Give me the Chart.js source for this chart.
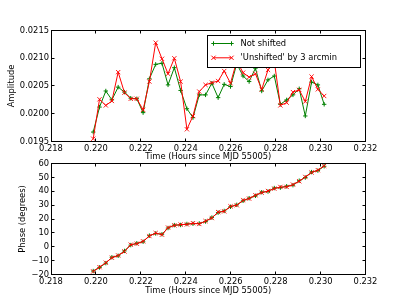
<!DOCTYPE html>
<html>
<head>
<meta charset="utf-8">
<script src="https://cdn.jsdelivr.net/npm/chart.js@4/dist/chart.umd.min.js"></script>
<style>
  body { margin: 0; background: #fff; }
  #wrap { position: relative; width: 407px; height: 305px; }
  canvas { position: absolute; left: 0; }
  #amp { top: 0; }
  #phase { top: 155px; }
</style>
</head>
<body>
<div id="wrap">
  <canvas id="amp" width="407" height="165"></canvas>
  <canvas id="phase" width="407" height="150"></canvas>
</div>
<script>
// time in hours since MJD 55005, one sample per second
const times = [
  0.21988, 0.22016, 0.22044, 0.22071, 0.22099, 0.22127, 0.22155, 0.22182, 0.22210, 0.22238,
  0.22266, 0.22294, 0.22321, 0.22349, 0.22377, 0.22405, 0.22432, 0.22460, 0.22488, 0.22516,
  0.22544, 0.22571, 0.22599, 0.22627, 0.22655, 0.22682, 0.22710, 0.22738, 0.22766, 0.22794,
  0.22821, 0.22849, 0.22877, 0.22905, 0.22932, 0.22960, 0.22988, 0.23016
];

const ampNotShifted = [
  0.01967, 0.02012, 0.02041, 0.02025, 0.02048, 0.02039, 0.02028, 0.02027, 0.02002, 0.02063,
  0.02089, 0.02091, 0.02052, 0.02083, 0.02042, 0.02009, 0.01993, 0.02034, 0.02034, 0.02055,
  0.02029, 0.02053, 0.02049, 0.02090, 0.02068, 0.02058, 0.02082, 0.02041, 0.02061, 0.02068,
  0.02017, 0.02025, 0.02034, 0.02045, 0.01996, 0.02057, 0.02052, 0.02017
];

const ampUnshifted = [
  0.01955, 0.02026, 0.02015, 0.02023, 0.02075, 0.02038, 0.02027, 0.02027, 0.02007, 0.02058,
  0.02128, 0.02099, 0.02072, 0.02100, 0.02058, 0.01972, 0.01996, 0.02040, 0.02052, 0.02056,
  0.02059, 0.02077, 0.02055, 0.02095, 0.02074, 0.02066, 0.02072, 0.02044, 0.02079, 0.02095,
  0.02015, 0.02020, 0.02039, 0.02043, 0.02022, 0.02067, 0.02044, 0.02032
];

const phaseNotShifted = [
  -17.5, -14.9, -11.8, -7.6, -6.5, -3.0, 1.2, 2.5, 3.6, 8.0,
  9.6, 9.0, 13.5, 15.6, 15.7, 16.4, 16.6, 16.8, 18.2, 21.0,
  24.6, 25.8, 28.8, 30.2, 33.1, 35.0, 36.7, 39.3, 39.8, 42.3,
  42.6, 43.6, 44.4, 47.6, 49.9, 53.8, 54.9, 58.0
];

const phaseUnshifted = [
  -17.8, -14.7, -11.5, -7.9, -6.3, -3.4, 1.5, 2.2, 3.9, 7.7,
  9.9, 8.7, 13.8, 15.4, 16.0, 16.1, 17.0, 16.4, 18.5, 20.7,
  25.0, 25.5, 29.1, 29.9, 33.5, 34.7, 37.1, 39.0, 40.2, 41.9,
  43.1, 43.1, 44.8, 47.2, 50.3, 53.5, 55.2, 58.3
];

const timeTicks = [0.218, 0.220, 0.222, 0.224, 0.226, 0.228, 0.230, 0.232];
const ampTicks = [0.0195, 0.0200, 0.0205, 0.0210, 0.0215];
const phaseTicks = [-20, -10, 0, 10, 20, 30, 40, 50, 60];

const seriesNames = ['Not shifted', "'Unshifted' by 3 arcmin"];
const xTitle = 'Time (Hours since MJD 55005)';

Chart.defaults.font.family = "'DejaVu Sans', sans-serif";
Chart.defaults.font.size = 8.33;
Chart.defaults.color = '#000';

const toPoints = ys => ys.map((y, i) => ({ x: times[i], y }));

const makeSets = (green, red) => [
  {
    label: seriesNames[0],
    data: toPoints(green),
    borderColor: '#008000',
    borderWidth: 1,
    pointStyle: 'cross',
    pointRadius: 2.2,
    pointBorderWidth: 1,
    pointBorderColor: '#008000',
    order: 2,
    clip: false
  },
  {
    label: seriesNames[1],
    data: toPoints(red),
    borderColor: '#ff0000',
    borderWidth: 1,
    pointStyle: 'crossRot',
    pointRadius: 3,
    pointBorderWidth: 0.9,
    pointBorderColor: '#ff0000',
    order: 1,
    clip: false
  }
];

const snap = v => Math.round(v - 0.5) + 0.5;

// matplotlib style box with inward ticks on all four sides
const framePlugin = {
  id: 'frame',
  afterDatasetsDraw(chart) {
    const { ctx, chartArea: a, scales: { x, y } } = chart;
    const L = snap(a.left), R = snap(a.right), T = snap(a.top), B = snap(a.bottom);
    ctx.save();
    ctx.strokeStyle = '#000';
    ctx.lineWidth = 1;
    ctx.beginPath();
    x.ticks.forEach(t => {
      const px = snap(x.getPixelForValue(t.value));
      ctx.moveTo(px, B); ctx.lineTo(px, B - 3);
      ctx.moveTo(px, T); ctx.lineTo(px, T + 3);
    });
    y.ticks.forEach(t => {
      const py = snap(y.getPixelForValue(t.value));
      ctx.moveTo(L, py); ctx.lineTo(L + 3, py);
      ctx.moveTo(R, py); ctx.lineTo(R - 3, py);
    });
    ctx.stroke();
    ctx.strokeRect(L, T, R - L, B - T);
    ctx.restore();
  }
};

// legend box in the upper right of the amplitude panel
const legendBox = {
  id: 'legendBox',
  afterDraw(chart) {
    const { ctx } = chart;
    const bx = 207.5, by = 35.5, bw = 153, bh = 32;
    ctx.save();
    ctx.fillStyle = '#fff';
    ctx.fillRect(bx, by, bw, bh);
    ctx.strokeStyle = '#000';
    ctx.lineWidth = 1;
    ctx.strokeRect(bx, by, bw, bh);
    ctx.font = "8.33px 'DejaVu Sans', sans-serif";
    ctx.textBaseline = 'middle';
    chart.data.datasets.forEach((ds, i) => {
      const ly = 43.5 + i * 14.3;
      ctx.strokeStyle = ds.borderColor;
      ctx.lineWidth = 1;
      ctx.beginPath();
      ctx.moveTo(213.5, ly); ctx.lineTo(231.5, ly);
      ctx.stroke();
      [213.5, 231.5].forEach(px => {
        Chart.helpers.drawPoint(ctx, {
          pointStyle: ds.pointStyle, radius: ds.pointRadius, rotation: 0, borderWidth: ds.pointBorderWidth
        }, px, ly);
      });
      ctx.fillStyle = '#000';
      ctx.fillText(ds.label, 240.5, ly);
    });
    ctx.restore();
  }
};

const makeChart = (id, sets, cfg) => new Chart(document.getElementById(id), {
  type: 'line',
  data: { datasets: sets },
  options: {
    responsive: false,
    animation: false,
    events: [],
    layout: { padding: cfg.padding },
    plugins: { legend: { display: false }, tooltip: { enabled: false } },
    elements: { line: { tension: 0 } },
    scales: {
      x: {
        type: 'linear',
        min: 0.218,
        max: 0.232,
        grid: { display: false, drawTicks: false },
        border: { display: false },
        afterBuildTicks: s => { s.ticks = timeTicks.map(v => ({ value: v })); },
        afterFit: s => { s.height = cfg.xHeight; },
        ticks: { autoSkip: false, maxRotation: 0, minRotation: 0, padding: 2, callback: v => v.toFixed(3) },
        title: { display: true, text: xTitle, padding: { top: 0, bottom: cfg.xTitlePad }, font: { lineHeight: 1.2 } }
      },
      y: {
        min: cfg.yTicks[0],
        max: cfg.yTicks[cfg.yTicks.length - 1],
        grid: { display: false, drawTicks: false },
        border: { display: false },
        afterBuildTicks: s => { s.ticks = cfg.yTicks.map(v => ({ value: v })); },
        afterFit: s => { s.width = 51; },
        ticks: { autoSkip: false, padding: 2, callback: cfg.yFormat },
        title: { display: true, text: cfg.yTitle, padding: { top: cfg.yTitlePad, bottom: 0 }, font: { lineHeight: 1.2 } }
      }
    }
  },
  plugins: cfg.plugins
});

makeChart('amp', makeSets(ampNotShifted, ampUnshifted), {
  padding: { top: 30.5, right: 41.5, left: 0, bottom: 0 },
  xHeight: 23.5,
  xTitlePad: 3,
  yTicks: ampTicks,
  yFormat: v => v.toFixed(4),
  yTitle: 'Amplitude',
  yTitlePad: 6.7,
  plugins: [framePlugin, legendBox]
});

makeChart('phase', makeSets(phaseNotShifted, phaseUnshifted), {
  padding: { top: 8.5, right: 41.5, left: 0, bottom: 0 },
  xHeight: 30.5,
  xTitlePad: 9.3,
  yTicks: phaseTicks,
  yFormat: v => (v < 0 ? '\u2212' + Math.abs(v) : String(v)),
  yTitle: 'Phase (degrees)',
  yTitlePad: 18.3,
  plugins: [framePlugin]
});
</script>
</body>
</html>
